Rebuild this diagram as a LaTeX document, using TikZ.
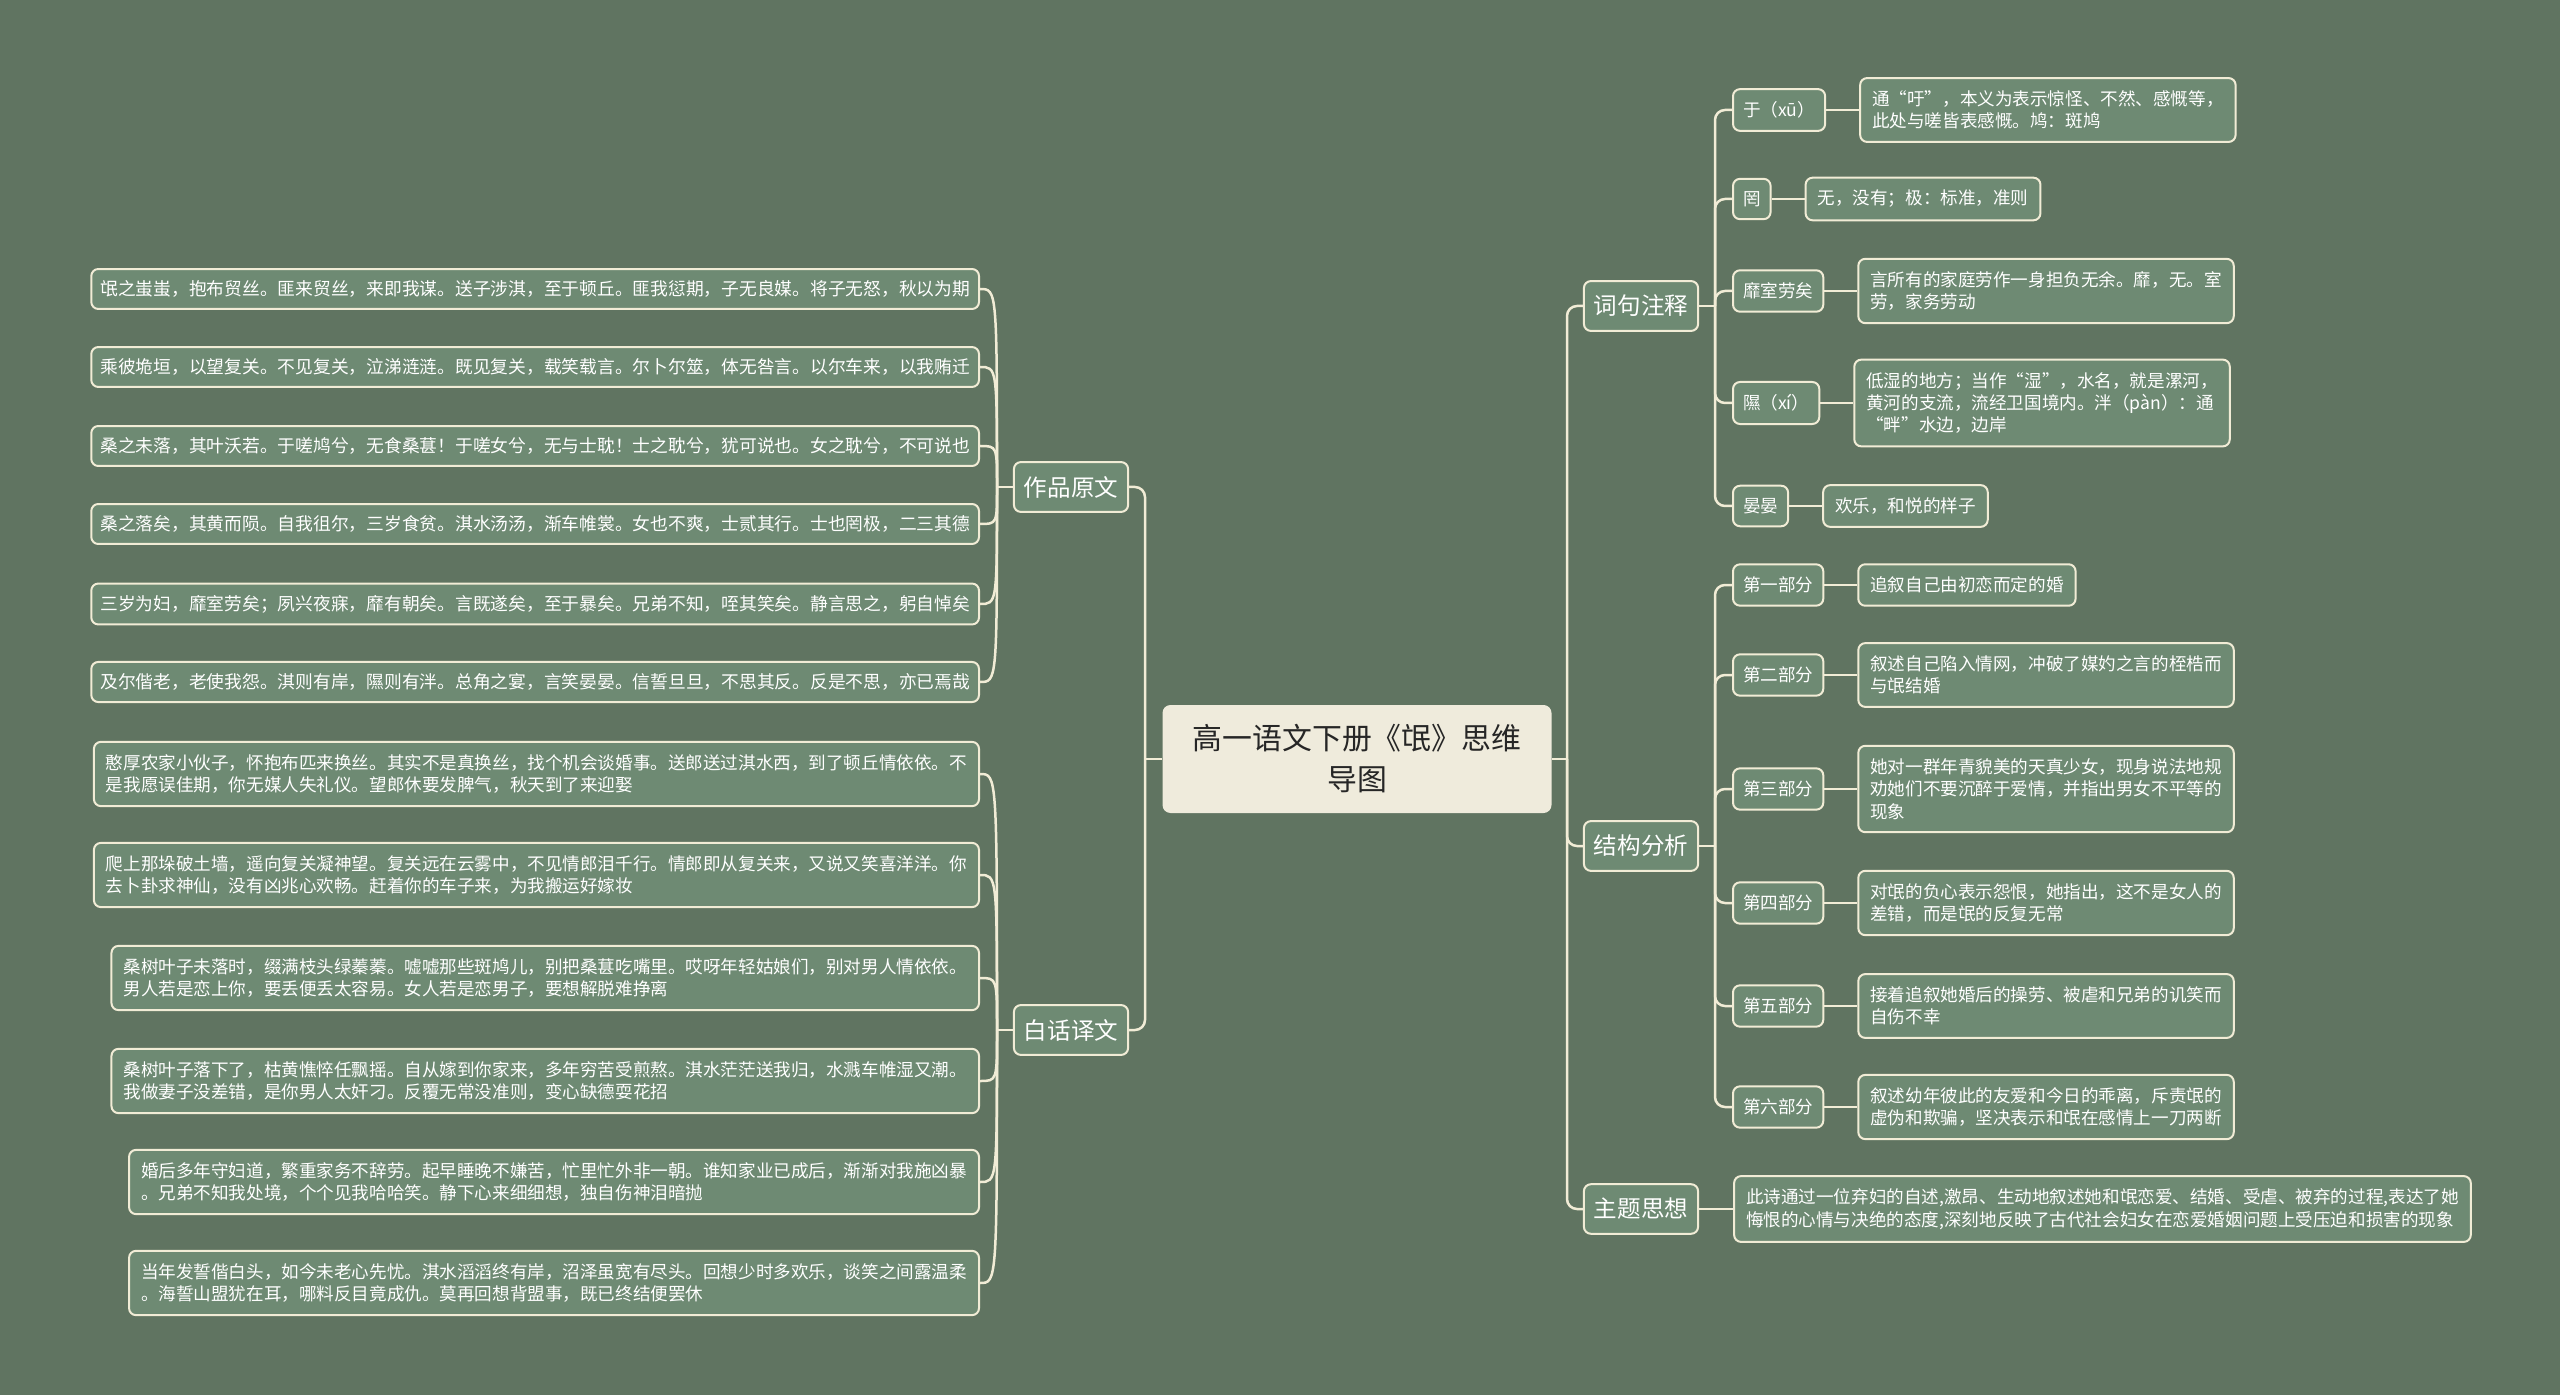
\documentclass[tikz,border=0pt]{standalone}
\usepackage{fontspec}
\setmainfont{Noto Sans CJK SC}
\usetikzlibrary{positioning}
\definecolor{bgc}{HTML}{607461}
\definecolor{boxc}{HTML}{6E8A73}
\definecolor{linec}{HTML}{F1ECD6}
\definecolor{rootc}{HTML}{EFEBDC}
\tikzset{
	root/.style={fill=rootc,text=black!85,rounded corners=1.6mm,align=center,
		font=\fontsize{17}{23.3}\selectfont,minimum width=77.8mm,minimum height=21.6mm},
	topic/.style={draw=linec,line width=0.4mm,fill=boxc,text=white,rounded corners=1.4mm,
		font=\fontsize{13.4}{16}\selectfont,inner xsep=2mm,inner ysep=2.8mm},
	sub/.style={topic,font=\fontsize{10}{12.8}\selectfont,inner xsep=2mm,inner ysep=2.5mm},
	leaf/.style={sub,align=left,inner xsep=2.4mm},
	poem/.style={leaf,font=\fontsize{10.1}{12.8}\selectfont,inner xsep=1.8mm,inner ysep=2.3mm},
	link/.style={draw=linec,line width=0.5mm,rounded corners=2mm},
}
\begin{document}
\begin{tikzpicture}[x=0.2mm,y=-0.2mm]
	\fill[bgc] (0,0) rectangle (2560,1395);
	\useasboundingbox (0,0) rectangle (2560,1395);
	% trung tam
	\node[root] (c) at (1357,759) {高一语文下册《氓》思维\\导图};
	\node[topic] (yw) at (1071,487) {作品原文};
	\node[topic] (yi) at (1071,1030) {白话译文};
	\node[topic] (zs) at (1641,306) {词句注释};
	\node[topic] (jg) at (1641,846) {结构分析};
	\node[topic] (zt) at (1641,1209) {主题思想};
	\coordinate (cl) at (1145,759);
	\coordinate (cr) at (1567,759);
	\draw[link] (c.west) -- (cl);
	\draw[link] (c.east) -- (cr);
	\foreach \n in {yw,yi} \draw[link] (cl) |- (\n.east);
	\foreach \n in {zs,jg,zt} \draw[link] (cr) |- (\n.west);
	% 作品原文
	\node[poem,anchor=east] (p1) at (980,289) {氓之蚩蚩，抱布贸丝。匪来贸丝，来即我谋。送子涉淇，至于顿丘。匪我愆期，子无良媒。将子无怒，秋以为期};
	\node[poem,anchor=east] (p2) at (980,367) {乘彼垝垣，以望复关。不见复关，泣涕涟涟。既见复关，载笑载言。尔卜尔筮，体无咎言。以尔车来，以我贿迁};
	\node[poem,anchor=east] (p3) at (980,446) {桑之未落，其叶沃若。于嗟鸠兮，无食桑葚！于嗟女兮，无与士耽！士之耽兮，犹可说也。女之耽兮，不可说也};
	\node[poem,anchor=east] (p4) at (980,524) {桑之落矣，其黄而陨。自我徂尔，三岁食贫。淇水汤汤，渐车帷裳。女也不爽，士贰其行。士也罔极，二三其德};
	\node[poem,anchor=east] (p5) at (980,604) {三岁为妇，靡室劳矣；夙兴夜寐，靡有朝矣。言既遂矣，至于暴矣。兄弟不知，咥其笑矣。静言思之，躬自悼矣};
	\node[poem,anchor=east] (p6) at (980,682) {及尔偕老，老使我怨。淇则有岸，隰则有泮。总角之宴，言笑晏晏。信誓旦旦，不思其反。反是不思，亦已焉哉};
	\coordinate (ywj) at (997,487);
	\draw[link] (yw.west) -- (ywj);
	\foreach \n in {p1,p2,p3,p4,p5,p6}
		\draw[link] (ywj) .. controls (ywj |- \n.east) .. (\n.east);
	% 白话译文
	\node[leaf,anchor=east] (t1) at (980,774) {憨厚农家小伙子，怀抱布匹来换丝。其实不是真换丝，找个机会谈婚事。送郎送过淇水西，到了顿丘情依依。不\\是我愿误佳期，你无媒人失礼仪。望郎休要发脾气，秋天到了来迎娶};
	\node[leaf,anchor=east] (t2) at (980,875) {爬上那垛破土墙，遥向复关凝神望。复关远在云雾中，不见情郎泪千行。情郎即从复关来，又说又笑喜洋洋。你\\去卜卦求神仙，没有凶兆心欢畅。赶着你的车子来，为我搬运好嫁妆};
	\node[leaf,anchor=east] (t3) at (980,978) {桑树叶子未落时，缀满枝头绿蓁蓁。嘘嘘那些斑鸠儿，别把桑葚吃嘴里。哎呀年轻姑娘们，别对男人情依依。\\男人若是恋上你，要丢便丢太容易。女人若是恋男子，要想解脱难挣离};
	\node[leaf,anchor=east] (t4) at (980,1081) {桑树叶子落下了，枯黄憔悴任飘摇。自从嫁到你家来，多年穷苦受煎熬。淇水茫茫送我归，水溅车帷湿又潮。\\我做妻子没差错，是你男人太奸刁。反覆无常没准则，变心缺德耍花招};
	\node[leaf,anchor=east] (t5) at (980,1182) {婚后多年守妇道，繁重家务不辞劳。起早睡晚不嫌苦，忙里忙外非一朝。谁知家业已成后，渐渐对我施凶暴\\。兄弟不知我处境，个个见我哈哈笑。静下心来细细想，独自伤神泪暗抛};
	\node[leaf,anchor=east] (t6) at (980,1283) {当年发誓偕白头，如今未老心先忧。淇水滔滔终有岸，沼泽虽宽有尽头。回想少时多欢乐，谈笑之间露温柔\\。海誓山盟犹在耳，哪料反目竟成仇。莫再回想背盟事，既已终结便罢休};
	\coordinate (yij) at (997,1030);
	\draw[link] (yi.west) -- (yij);
	\foreach \n in {t1,t2,t3,t4,t5,t6}
		\draw[link] (yij) .. controls (yij |- \n.east) .. (\n.east);
	% 词句注释
	\node[sub,anchor=west] (w1) at (1732,110) {于（xū）};
	\node[sub,anchor=west] (w2) at (1732,199) {罔};
	\node[sub,anchor=west] (w3) at (1732,291) {靡室劳矣};
	\node[sub,anchor=west] (w4) at (1732,403) {隰（xí）};
	\node[sub,anchor=west] (w5) at (1732,506) {晏晏};
	\node[leaf,right=6.6mm of w1] (w1t) {通“吁”，本义为表示惊怪、不然、感慨等，\\此处与嗟皆表感慨。鸠：斑鸠};
	\node[leaf,right=6.6mm of w2] (w2t) {无，没有；极：标准，准则};
	\node[leaf,right=6.6mm of w3] (w3t) {言所有的家庭劳作一身担负无余。靡，无。室\\劳，家务劳动};
	\node[leaf,right=6.6mm of w4] (w4t) {低湿的地方；当作“湿”，水名，就是漯河，\\黄河的支流，流经卫国境内。泮（pàn）：通\\“畔”水边，边岸};
	\node[leaf,right=6.6mm of w5] (w5t) {欢乐，和悦的样子};
	\coordinate (zsj) at (1715,306);
	\draw[link] (zs.east) -- (zsj);
	\foreach \n in {w1,w2,w3,w4,w5} {
		\draw[link] (zsj) |- (\n.west);
		\draw[link] (\n.east) -- (\n t.west);
	}
	% 结构分析
	\node[sub,anchor=west] (s1) at (1732,585) {第一部分};
	\node[sub,anchor=west] (s2) at (1732,675) {第二部分};
	\node[sub,anchor=west] (s3) at (1732,789) {第三部分};
	\node[sub,anchor=west] (s4) at (1732,903) {第四部分};
	\node[sub,anchor=west] (s5) at (1732,1006) {第五部分};
	\node[sub,anchor=west] (s6) at (1732,1107) {第六部分};
	\node[leaf,right=6.6mm of s1] (s1t) {追叙自己由初恋而定的婚};
	\node[leaf,right=6.6mm of s2] (s2t) {叙述自己陷入情网，冲破了媒妁之言的桎梏而\\与氓结婚};
	\node[leaf,right=6.6mm of s3] (s3t) {她对一群年青貌美的天真少女，现身说法地规\\劝她们不要沉醉于爱情，并指出男女不平等的\\现象};
	\node[leaf,right=6.6mm of s4] (s4t) {对氓的负心表示怨恨，她指出，这不是女人的\\差错，而是氓的反复无常};
	\node[leaf,right=6.6mm of s5] (s5t) {接着追叙她婚后的操劳、被虐和兄弟的讥笑而\\自伤不幸};
	\node[leaf,right=6.6mm of s6] (s6t) {叙述幼年彼此的友爱和今日的乖离，斥责氓的\\虚伪和欺骗，坚决表示和氓在感情上一刀两断};
	\coordinate (jgj) at (1715,846);
	\draw[link] (jg.east) -- (jgj);
	\foreach \n in {s1,s2,s3,s4,s5,s6} {
		\draw[link] (jgj) |- (\n.west);
		\draw[link] (\n.east) -- (\n t.west);
	}
	% 主题思想
	\node[leaf,right=6.8mm of zt] (ztt) {此诗通过一位弃妇的自述,激昂、生动地叙述她和氓恋爱、结婚、受虐、被弃的过程,表达了她\\悔恨的心情与决绝的态度,深刻地反映了古代社会妇女在恋爱婚姻问题上受压迫和损害的现象};
	\draw[link] (zt) -- (ztt);
\end{tikzpicture}
\end{document}
